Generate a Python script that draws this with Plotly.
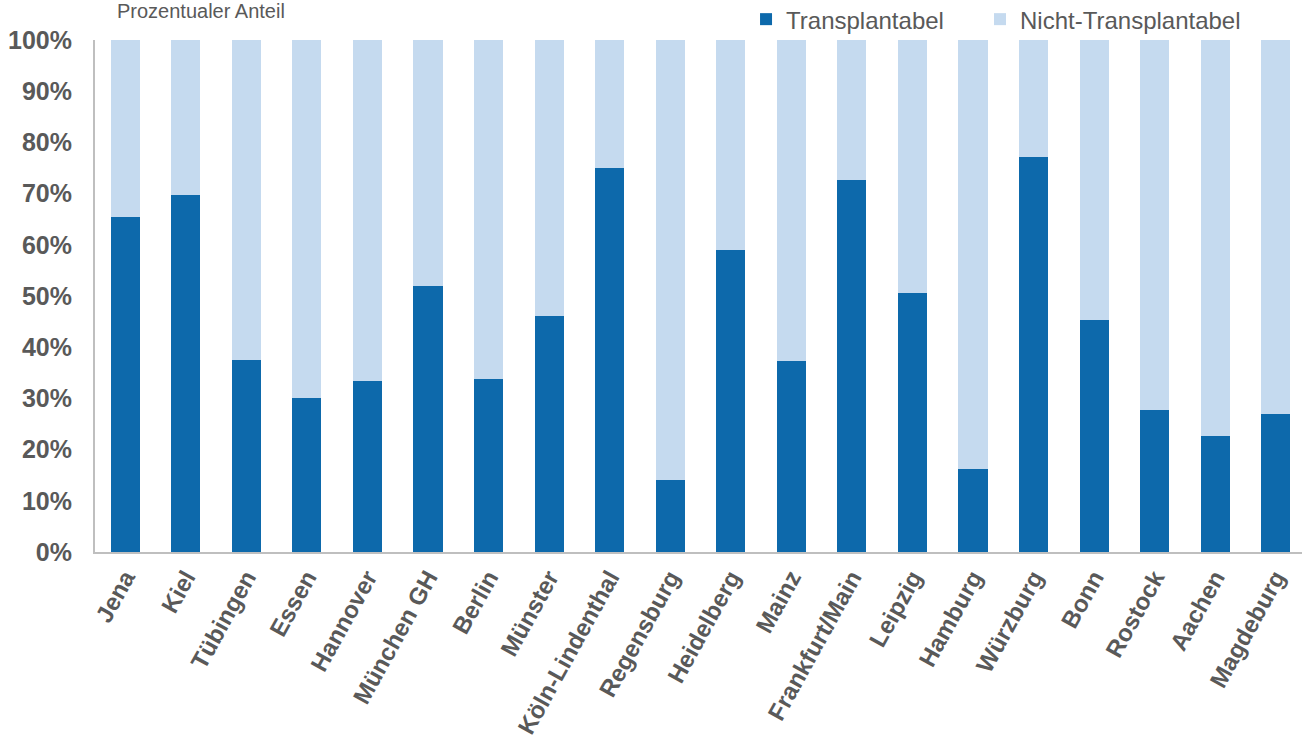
import plotly.graph_objects as go

categories = ["Jena", "Kiel", "Tübingen", "Essen", "Hannover", "München GH", "Berlin",
              "Münster", "Köln-Lindenthal", "Regensburg", "Heidelberg", "Mainz",
              "Frankfurt/Main", "Leipzig", "Hamburg", "Würzburg", "Bonn", "Rostock",
              "Aachen", "Magdeburg"]
transplantabel = [65.4, 69.7, 37.5, 30.1, 33.4, 52.0, 33.8, 46.1, 75.0, 14.1,
                  59.0, 37.3, 72.7, 50.6, 16.2, 77.1, 45.3, 27.7, 22.7, 27.0]
nicht_transplantabel = [100 - v for v in transplantabel]
y_ticks = [0, 10, 20, 30, 40, 50, 60, 70, 80, 90, 100]

dark = "#0D69AB"
light = "#C5DAEF"
txt = "#595959"
FONT = "Liberation Sans, Arial, sans-serif"

fig = go.Figure()
fig.add_trace(go.Bar(x=categories, y=transplantabel, name="Transplantabel",
                     marker=dict(color=dark, line=dict(width=0)), legend="legend"))
fig.add_trace(go.Bar(x=categories, y=nicht_transplantabel, name="Nicht-Transplantabel",
                     marker=dict(color=light, line=dict(width=0)), legend="legend2"))

leg_common = dict(orientation="h", y=0.996, xanchor="left", yanchor="bottom",
                  font=dict(size=24, color=txt), itemwidth=30,
                  bgcolor="rgba(0,0,0,0)")

fig.update_layout(
    barmode="stack",
    bargap=0.52,
    width=1306, height=751,
    margin=dict(l=95, r=0, t=40, b=199, autoexpand=False),
    plot_bgcolor="white", paper_bgcolor="white",
    font=dict(family=FONT, color=txt),
    showlegend=True,
    legend=dict(x=0.5376, **leg_common),
    legend2=dict(x=0.7308, **leg_common),
    annotations=[dict(text="Prozentualer Anteil", xref="paper", yref="paper",
                      x=0.0165, y=1.0, xanchor="left", yanchor="middle", showarrow=False,
                      font=dict(size=20, color=txt), yshift=29)],
)
fig.update_xaxes(tickangle=-61, tickfont=dict(size=24, color=txt, family=FONT),
                 ticktext=[f"<b>{c}</b>" for c in categories], tickvals=categories,
                 showline=True, linecolor="#BFBFBF", linewidth=2, ticks="", showgrid=False)
fig.update_yaxes(range=[0, 100], tickvals=y_ticks, ticktext=[f"<b>{v}%</b>" for v in y_ticks],
                 tickfont=dict(size=25, color=txt), showline=True, linecolor="#BFBFBF",
                 linewidth=2, showgrid=False, ticks="", zeroline=False, ticklabelstandoff=16)

fig.write_html("out.html", config={"displayModeBar": False},
               post_script="document.body.style.margin='0';document.body.style.overflow='hidden';")
